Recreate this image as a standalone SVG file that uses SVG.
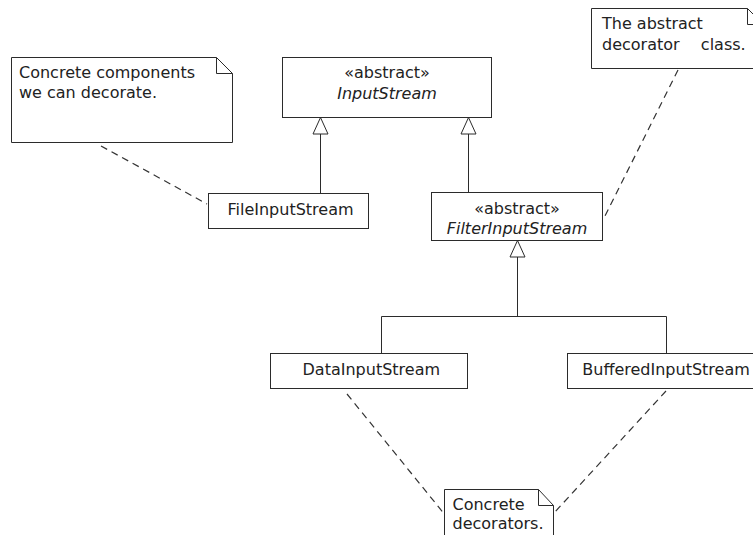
<svg xmlns="http://www.w3.org/2000/svg" width="753" height="535" viewBox="0 0 753 535">
<style>
.box{fill:#fff;stroke:#2b2b2b;stroke-width:1}
.fold{fill:none;stroke:#2b2b2b;stroke-width:1}
.t{font-family:"DejaVu Sans","Liberation Sans",sans-serif;font-size:16px;fill:#222}
.i{font-style:italic}
.m{text-anchor:middle}
.pre{white-space:pre}
.line{fill:none;stroke:#2b2b2b;stroke-width:1}
.dash{fill:none;stroke:#333;stroke-width:1.2;stroke-dasharray:7 5}
.tri{fill:#fff;stroke:#2b2b2b;stroke-width:1}
</style>
<rect width="753" height="535" fill="#fff"/>
<g id="connectors">
<line class="dash" x1="101" y1="146" x2="207" y2="204"/>
<line class="dash" x1="678" y1="70" x2="604" y2="218"/>
<line class="dash" x1="347" y1="394" x2="443.5" y2="513"/>
<line class="dash" x1="666" y1="391" x2="554" y2="513"/>
<line class="line" x1="320.5" y1="134" x2="320.5" y2="193.5"/>
<polygon class="tri" points="320.5,117.5 313,134 328,134"/>
<line class="line" x1="468.5" y1="134" x2="468.5" y2="192.5"/>
<polygon class="tri" points="468.5,117.5 461,134 476,134"/>
<line class="line" x1="517.5" y1="257" x2="517.5" y2="316.5"/>
<polygon class="tri" points="517.5,240.5 510,257 525,257"/>
<polyline class="line" points="381.5,353.5 381.5,316.5 666.5,316.5 666.5,353.5"/>
</g>
<g id="note-components">
<path class="box" d="M11.5,57.5 H216.5 L232.5,73.5 V142.5 H11.5 Z"/>
<path class="fold" d="M216.5,57.5 V73.5 H232.5"/>
<text class="t" x="19" y="77.5">Concrete components</text>
<text class="t" x="19" y="97.5">we can decorate.</text>
</g>
<g id="InputStream">
<rect class="box" x="282.5" y="57.5" width="209" height="60"/>
<text class="t m" x="387" y="77.5">«abstract»</text>
<text class="t m i" x="387" y="98.5">InputStream</text>
</g>
<g id="FileInputStream">
<rect class="box" x="208.5" y="193.5" width="160" height="35"/>
<text class="t m" x="290.5" y="214.5">FileInputStream</text>
</g>
<g id="FilterInputStream">
<rect class="box" x="431.5" y="192.5" width="171" height="48"/>
<text class="t m" x="517" y="213.5">«abstract»</text>
<text class="t m i" x="517" y="234">FilterInputStream</text>
</g>
<g id="note-decorator">
<path class="box" d="M591.5,8.5 H747.5 L763.5,24.5 V68.5 H591.5 Z"/>
<path class="fold" d="M747.5,8.5 V24.5 H763.5"/>
<text class="t" x="602" y="29">The abstract</text>
<text class="t pre" x="602" y="49.5" xml:space="preserve" word-spacing="2">decorator   class.</text>
</g>
<g id="DataInputStream">
<rect class="box" x="270.5" y="353.5" width="197" height="35"/>
<text class="t m" x="371.3" y="375">DataInputStream</text>
</g>
<g id="BufferedInputStream">
<rect class="box" x="567.5" y="353.5" width="198" height="35"/>
<text class="t" x="582.3" y="375">BufferedInputStream</text>
</g>
<g id="note-decorators">
<path class="box" d="M444.5,489.5 H538.5 L553.5,505.5 V545 H444.5 Z"/>
<path class="fold" d="M538.5,489.5 V505.5 H553.5"/>
<text class="t" x="452.5" y="510">Concrete</text>
<text class="t" x="452.5" y="529">decorators.</text>
</g>
</svg>
